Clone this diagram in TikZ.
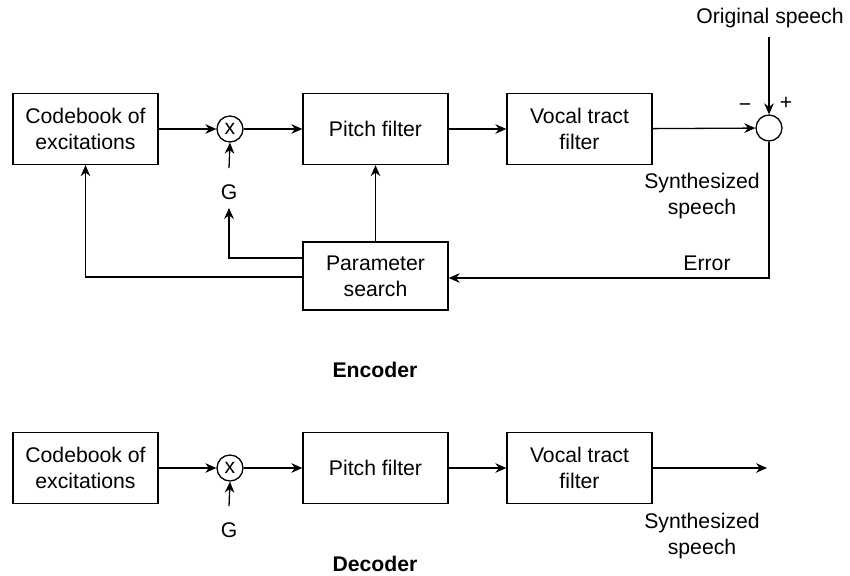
\documentclass[tikz,border=0pt]{standalone}
\usepackage{fontspec}
\setmainfont{Liberation Sans}
\usetikzlibrary{arrows.meta}

\tikzset{
  blk/.style={draw, line width=0.65pt, minimum width=72.5pt, minimum height=35.5pt,
              inner sep=0pt, align=center},
  junc/.style={draw, circle, line width=0.65pt, minimum size=13pt, inner sep=0pt},
  lbl/.style={align=center, inner sep=0pt},
  gain/.style={inner sep=4pt},
  sig/.style={line width=0.65pt, -{Stealth[length=5.5pt, width=4.8pt]}},
}

\begin{document}
\begin{tikzpicture}[x=0.5pt, y=-0.5pt, font=\fontsize{10.6}{13}\selectfont]
\useasboundingbox (0,0) rectangle (850,575);

% ---------------- Encoder ----------------
\node[blk] (cb1) at (85.5,129) {Codebook of\\excitations};
\node[junc] (m1) at (230,129) {\raisebox{0.3pt}{x}};
\node[blk] (pf1) at (375.5,129) {Pitch filter};
\node[blk] (vt1) at (579.5,129) {Vocal tract\\filter};
\node[junc] (sum) at (769,128) {};
\node[blk, minimum height=34pt] (ps) at (375.5,276) {Parameter\\search};
\node[gain] (g1) at (229,192) {G};

\node[lbl] (orig) at (770,18) {Original speech};
\coordinate (origend) at (769,37);
\node[lbl] at (745,108) {−};
\node[lbl] at (786,103) {+};
\node[lbl] at (702,196) {Synthesized\\speech};
\node[lbl] at (707,263) {Error};
\node[lbl, font=\fontsize{10.6}{13}\selectfont\bfseries] at (375,370) {Encoder};

\draw[sig] (cb1) -- (m1);
\draw[sig] (m1) -- (pf1);
\draw[sig] (pf1) -- (vt1);
\draw[sig] (vt1) -- (sum);
\draw[sig] (origend) -- (sum.north);
\draw[sig] ([yshift=4pt]g1.north) -- (m1.south);
\draw[sig] (sum.south) |- ([yshift=-1pt]ps.east);
\draw[sig] (ps.north) -- (ps.north |- pf1.south);
\draw[sig] ([yshift=9pt]ps.west) -| (g1.south);
\draw[sig] ([yshift=-0.5pt]ps.west) -| (cb1.south);

% ---------------- Decoder ----------------
\node[blk] (cb2) at (85.5,468) {Codebook of\\excitations};
\node[junc] (m2) at (230,468) {\raisebox{0.3pt}{x}};
\node[blk] (pf2) at (375.5,468) {Pitch filter};
\node[blk] (vt2) at (579.5,468) {Vocal tract\\filter};
\node[gain] (g2) at (229,530) {G};
\coordinate (out2) at (767,468);

\node[lbl] at (702,536) {Synthesized\\speech};
\node[lbl, font=\fontsize{10.6}{13}\selectfont\bfseries] at (375,564) {Decoder};

\draw[sig] (cb2) -- (m2);
\draw[sig] (m2) -- (pf2);
\draw[sig] (pf2) -- (vt2);
\draw[sig] (vt2) -- (out2);
\draw[sig] ([yshift=4pt]g2.north) -- (m2.south);
\end{tikzpicture}
\end{document}
